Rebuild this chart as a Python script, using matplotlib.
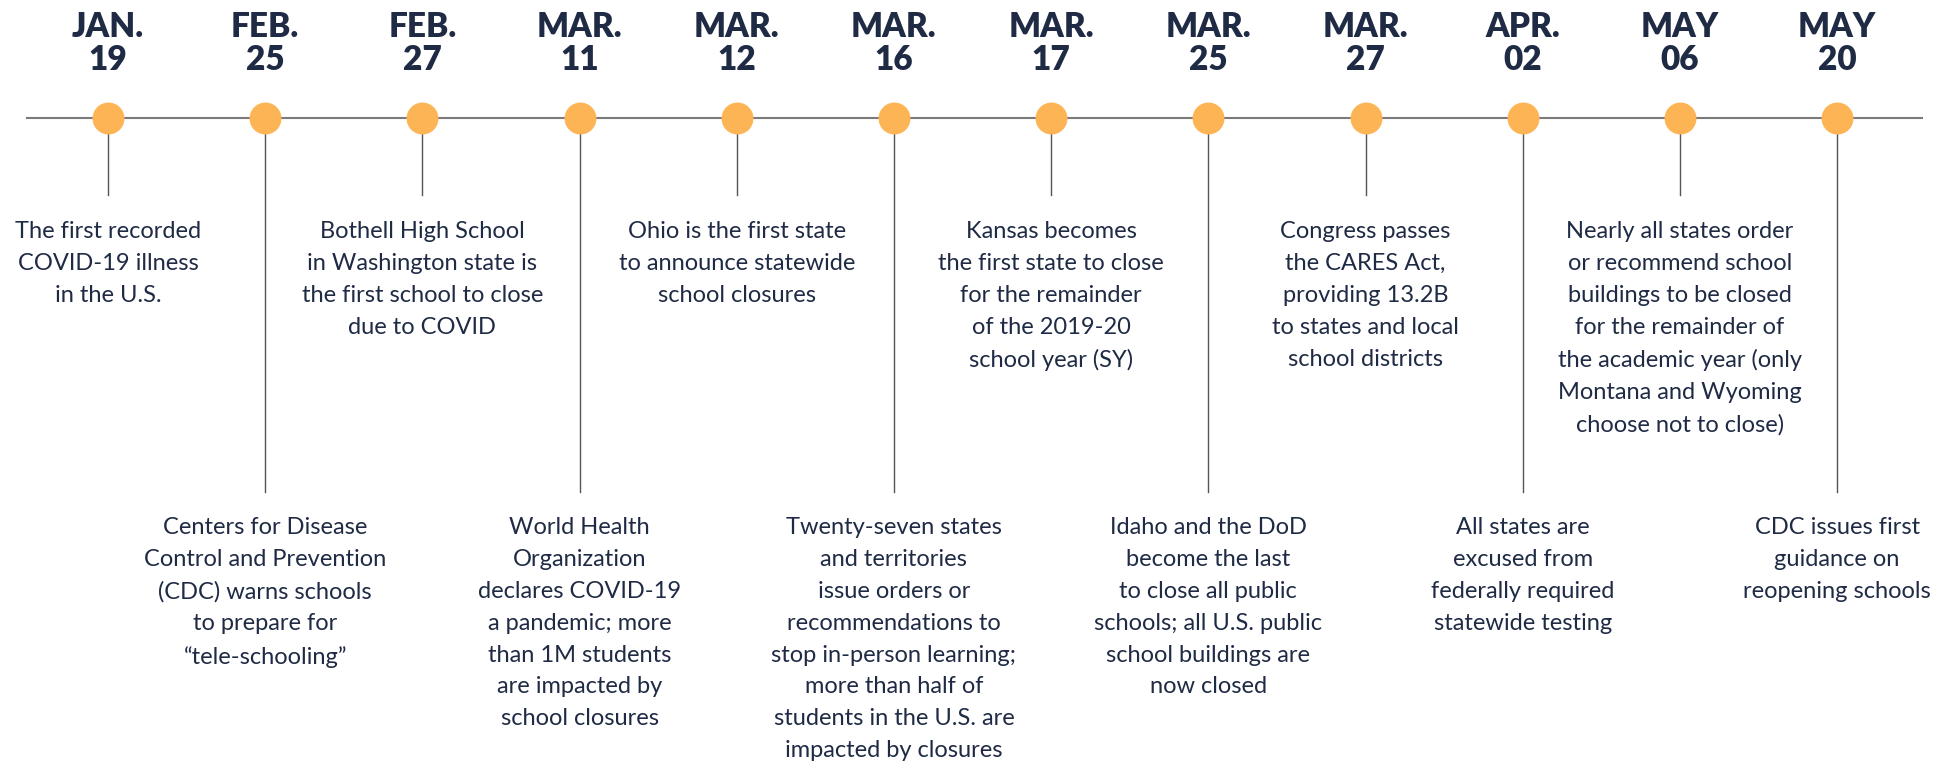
import matplotlib.pyplot as plt

# Timeline events (left to right)
months = ["JAN.", "FEB.", "FEB.", "MAR.", "MAR.", "MAR.",
          "MAR.", "MAR.", "MAR.", "APR.", "MAY", "MAY"]
days = ["19", "25", "27", "11", "12", "16", "17", "25", "27", "02", "06", "20"]
events = [
    "The first recorded\nCOVID-19 illness\nin the U.S.",
    "Centers for Disease\nControl and Prevention\n(CDC) warns schools\nto prepare for\n\u201ctele-schooling\u201d",
    "Bothell High School\nin Washington state is\nthe first school to close\ndue to COVID",
    "World Health\nOrganization\ndeclares COVID-19\na pandemic; more\nthan 1M students\nare impacted by\nschool closures",
    "Ohio is the first state\nto announce statewide\nschool closures",
    "Twenty-seven states\nand territories\nissue orders or\nrecommendations to\nstop in-person learning;\nmore than half of\nstudents in the U.S. are\nimpacted by closures",
    "Kansas becomes\nthe first state to close\nfor the remainder\nof the 2019-20\nschool year (SY)",
    "Idaho and the DoD\nbecome the last\nto close all public\nschools; all U.S. public\nschool buildings are\nnow closed",
    "Congress passes\nthe CARES Act,\nproviding 13.2B\nto states and local\nschool districts",
    "All states are\nexcused from\nfederally required\nstatewide testing",
    "Nearly all states order\nor recommend school\nbuildings to be closed\nfor the remainder of\nthe academic year (only\nMontana and Wyoming\nchoose not to close)",
    "CDC issues first\nguidance on\nreopening schools",
]

navy = "#1f2a44"
orange = "#fdb455"
W, H = 1946, 765

fig = plt.figure(figsize=(W / 100, H / 100), dpi=100)
ax = fig.add_axes([0, 0, 1, 1])
# x in event index, y in pixels from the top
ax.set_xlim(-0.687, 11.693)
ax.set_ylim(H, 0)
ax.axis("off")

line_y = 118
ax.axhline(line_y, xmin=27 / W, xmax=1922 / W, color="#7a7a7a", lw=1.5, zorder=1)

for i, (m, d, txt) in enumerate(zip(months, days, events)):
    upper = i % 2 == 0
    stem_end = 195 if upper else 492
    text_top = 221 if upper else 517
    ax.plot([i, i], [line_y, stem_end], color="#555555", lw=1.0, zorder=2)
    ax.plot(i, line_y, "o", ms=23, color=orange, mec="none", zorder=3)
    ax.text(i, 27, m, ha="center", va="center", fontsize=24,
            fontweight="heavy", family="Lato", color=navy)
    ax.text(i, 60, d, ha="center", va="center", fontsize=24,
            fontweight="heavy", family="Lato", color=navy)
    ax.text(i, text_top, txt, ha="center", va="top", fontsize=17,
            family="Lato", color=navy, linespacing=1.64)

fig.savefig("out.png", dpi=100, facecolor="white")
